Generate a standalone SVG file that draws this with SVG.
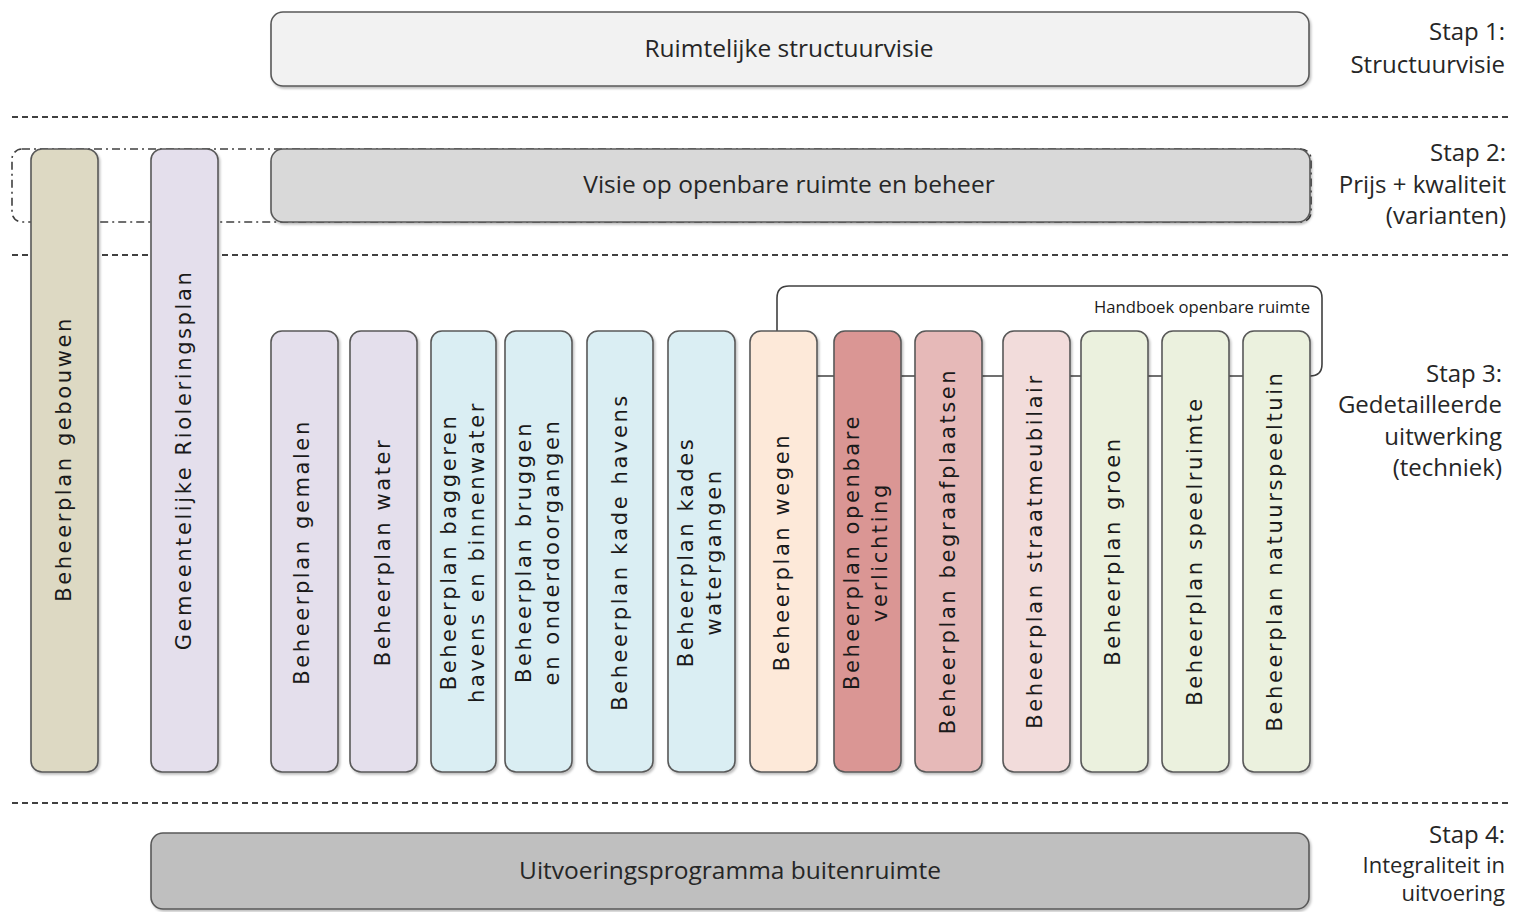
<svg xmlns="http://www.w3.org/2000/svg" width="1514" height="912" viewBox="0 0 1514 912">
<defs>
<style>
.box{stroke:#595959;stroke-width:1.6}
.sep{stroke:#404040;stroke-width:2;stroke-dasharray:6 4;fill:none}
.lbl{font-family:"Open Sans","Liberation Sans",sans-serif;font-size:24.5px;fill:#262626}
.step{font-family:"Open Sans","Liberation Sans",sans-serif;font-size:24px;fill:#262626;text-anchor:end}
.col{font-family:"DejaVu Sans",sans-serif;font-size:21px;fill:#1a1a1a;text-anchor:middle;dominant-baseline:central;letter-spacing:2.6px}
.conn{stroke:#404040;stroke-width:1.6;fill:none}
</style>
<filter id="sh" x="-5%" y="-5%" width="115%" height="115%">
<feDropShadow dx="1.5" dy="2" stdDeviation="1.2" flood-color="#000" flood-opacity="0.25"/>
</filter>
</defs>
<g id="separators">
<line class="sep" x1="12" y1="117" x2="1512" y2="117"/>
<line class="sep" x1="12" y1="255" x2="1512" y2="255"/>
<line class="sep" x1="12" y1="803" x2="1512" y2="803"/>
</g>
<g id="stap2-group">
<rect x="12" y="149" width="1299" height="73" rx="10" fill="none" stroke="#404040" stroke-width="1.6" stroke-dasharray="8 4 2 4"/>
</g>
<g id="structuurvisie">
<rect class="box" filter="url(#sh)" x="271" y="12" width="1038" height="74" rx="12" fill="#f2f2f2"/>
<text class="lbl" x="789" y="57" text-anchor="middle">Ruimtelijke structuurvisie</text>
</g>
<g id="visie">
<rect filter="url(#sh)" x="271" y="149" width="1039" height="73" rx="12" fill="#d9d9d9" stroke="#595959" stroke-width="1.6"/>
<text class="lbl" x="789" y="193" text-anchor="middle">Visie op openbare ruimte en beheer</text>
</g>
<g id="gebouwen">
<rect class="box" filter="url(#sh)" x="31" y="149" width="67" height="623" rx="11" fill="#ddd9c3"/>
<text class="col" transform="translate(64,459) rotate(-90)">Beheerplan gebouwen</text>
</g>
<g id="riolering">
<rect class="box" filter="url(#sh)" x="151" y="149" width="67" height="623" rx="11" fill="#e4dfec"/>
<text class="col" transform="translate(184,460) rotate(-90)">Gemeentelijke Rioleringsplan</text>
</g>
<g id="connectors">
<line class="conn" x1="817" y1="376" x2="1243" y2="376"/>
<path class="conn" d="M777,331 V298 Q777,286 789,286 H1310 Q1322,286 1322,298 V364 Q1322,376 1310,376"/>
<text x="1094" y="313" textLength="216" lengthAdjust="spacingAndGlyphs" font-family="Open Sans, Liberation Sans, sans-serif" font-size="16" fill="#1a1a1a">Handboek openbare ruimte</text>
</g>
<g id="gemalen">
<rect class="box" filter="url(#sh)" x="271" y="331" width="67" height="441" rx="11" fill="#e4dfec"/>
<text class="col" transform="translate(302,552) rotate(-90)">Beheerplan gemalen</text>
</g>
<g id="water">
<rect class="box" filter="url(#sh)" x="350" y="331" width="67" height="441" rx="11" fill="#e4dfec"/>
<text class="col" transform="translate(383,552) rotate(-90)">Beheerplan water</text>
</g>
<g id="baggeren">
<rect class="box" filter="url(#sh)" x="431" y="331" width="65" height="441" rx="11" fill="#daeef3"/>
<text class="col" transform="translate(463,552) rotate(-90)"><tspan x="0" y="-14">Beheerplan baggeren</tspan><tspan x="0" y="14">havens en binnenwater</tspan></text>
</g>
<g id="bruggen">
<rect class="box" filter="url(#sh)" x="505" y="331" width="67" height="441" rx="11" fill="#daeef3"/>
<text class="col" transform="translate(538,552) rotate(-90)"><tspan x="0" y="-14">Beheerplan bruggen</tspan><tspan x="0" y="14">en onderdoorgangen</tspan></text>
</g>
<g id="kadehavens">
<rect class="box" filter="url(#sh)" x="587" y="331" width="66" height="441" rx="11" fill="#daeef3"/>
<text class="col" transform="translate(620,552) rotate(-90)">Beheerplan kade havens</text>
</g>
<g id="kades">
<rect class="box" filter="url(#sh)" x="668" y="331" width="67" height="441" rx="11" fill="#daeef3"/>
<text class="col" transform="translate(700,552) rotate(-90)"><tspan x="0" y="-14">Beheerplan kades</tspan><tspan x="0" y="14">watergangen</tspan></text>
</g>
<g id="wegen">
<rect class="box" filter="url(#sh)" x="750" y="331" width="67" height="441" rx="11" fill="#fde9d9"/>
<text class="col" transform="translate(782,552) rotate(-90)">Beheerplan wegen</text>
</g>
<g id="verlichting">
<rect class="box" filter="url(#sh)" x="834" y="331" width="67" height="441" rx="11" fill="#da9694"/>
<text class="col" transform="translate(866,552) rotate(-90)"><tspan x="0" y="-14">Beheerplan openbare</tspan><tspan x="0" y="14">verlichting</tspan></text>
</g>
<g id="begraafplaatsen">
<rect class="box" filter="url(#sh)" x="915" y="331" width="67" height="441" rx="11" fill="#e6b9b8"/>
<text class="col" transform="translate(948,551) rotate(-90)">Beheerplan begraafplaatsen</text>
</g>
<g id="straatmeubilair">
<rect class="box" filter="url(#sh)" x="1003" y="331" width="67" height="441" rx="11" fill="#f2dcdb"/>
<text class="col" transform="translate(1035,551) rotate(-90)">Beheerplan straatmeubilair</text>
</g>
<g id="groen">
<rect class="box" filter="url(#sh)" x="1081" y="331" width="67" height="441" rx="11" fill="#ebf1de"/>
<text class="col" transform="translate(1113,551) rotate(-90)">Beheerplan groen</text>
</g>
<g id="speelruimte">
<rect class="box" filter="url(#sh)" x="1162" y="331" width="67" height="441" rx="11" fill="#ebf1de"/>
<text class="col" transform="translate(1195,551) rotate(-90)">Beheerplan speelruimte</text>
</g>
<g id="natuurspeeltuin">
<rect class="box" filter="url(#sh)" x="1243" y="331" width="67" height="441" rx="11" fill="#ebf1de"/>
<text class="col" transform="translate(1275,551) rotate(-90)">Beheerplan natuurspeeltuin</text>
</g>
<g id="uitvoering">
<rect class="box" filter="url(#sh)" x="151" y="833" width="1158" height="76" rx="12" fill="#bfbfbf"/>
<text class="lbl" x="730" y="879" text-anchor="middle">Uitvoeringsprogramma buitenruimte</text>
</g>
<g id="steps">
<text class="step" x="1505" y="40">Stap 1:</text>
<text class="step" x="1505" y="73">Structuurvisie</text>
<text class="step" x="1506" y="161">Stap 2:</text>
<text class="step" x="1506" y="193">Prijs + kwaliteit</text>
<text class="step" x="1506" y="224">(varianten)</text>
<text class="step" x="1502" y="382">Stap 3:</text>
<text class="step" x="1502" y="413">Gedetailleerde</text>
<text class="step" x="1502" y="445">uitwerking</text>
<text class="step" x="1502" y="476">(techniek)</text>
<text class="step" x="1505" y="843">Stap 4:</text>
<text class="step" x="1505" y="873" style="font-size:22px">Integraliteit in</text>
<text class="step" x="1505" y="901" style="font-size:22px">uitvoering</text>
</g>
</svg>
